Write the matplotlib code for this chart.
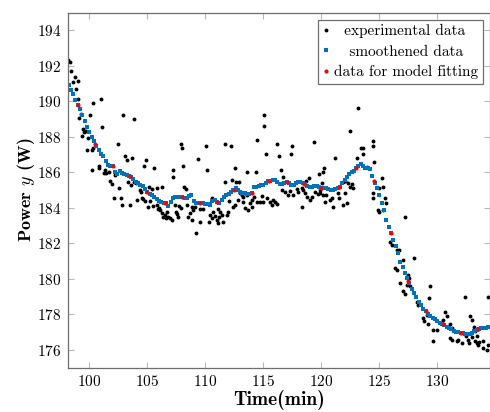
import matplotlib.pyplot as plt
import numpy as np

plt.rcParams['font.family'] = 'cmr10'
plt.rcParams['mathtext.fontset'] = 'cm'
plt.rcParams['axes.formatter.use_mathtext'] = True

exp_time = [98.19, 98.34, 98.45, 98.62, 98.77, 98.85, 99.00, 99.05, 99.14, 99.28,
            99.37, 99.43, 99.57, 99.72, 99.78, 99.89, 100.09, 100.20, 100.23, 100.29,
            100.30, 100.81, 100.86, 100.98, 101.07, 101.29, 101.35, 101.44, 101.72, 101.81,
            101.95, 102.13, 102.24, 102.45, 102.59, 102.70, 102.84, 102.93, 103.05, 103.25,
            103.30, 103.51, 103.59, 103.66, 103.85, 103.88, 104.03, 104.14, 104.37, 104.46,
            104.52, 104.60, 104.74, 104.80, 104.89, 105.09, 105.12, 105.23, 105.38, 105.52,
            105.60, 105.81, 105.81, 105.95, 106.03, 106.10, 106.24, 106.24, 106.38, 106.53,
            106.61, 106.67, 106.81, 106.96, 107.10, 107.19, 107.24, 107.39, 107.47, 107.53,
            107.68, 107.76, 107.88, 107.88, 107.99, 108.08, 108.16, 108.34, 108.40, 108.53,
            108.68, 108.81, 108.83, 108.97, 109.11, 109.19, 109.39, 109.54, 109.54, 109.77,
            110.03, 110.12, 110.32, 110.40, 110.55, 110.55, 110.69, 110.84, 110.98, 111.12,
            111.12, 111.21, 111.27, 111.41, 111.55, 111.70, 111.70, 111.84, 111.98, 112.07,
            112.22, 112.33, 112.41, 112.53, 112.56, 112.62, 112.85, 112.90, 112.99, 113.14,
            113.22, 113.28, 113.42, 113.57, 113.57, 113.71, 113.86, 114.00, 114.00, 114.15,
            114.35, 114.43, 114.48, 114.72, 114.86, 115.00, 115.06, 115.09, 115.26, 115.29,
            115.58, 115.72, 115.86, 116.00, 116.15, 116.20, 116.36, 116.52, 116.58, 116.72,
            116.87, 117.16, 117.30, 117.37, 117.45, 117.59, 117.88, 118.02, 118.30, 118.30,
            118.45, 118.59, 118.71, 118.74, 118.91, 119.03, 119.17, 119.37, 119.46, 119.69,
            119.80, 119.89, 119.92, 120.03, 120.12, 120.17, 120.23, 120.31, 120.40, 120.75,
            120.89, 120.98, 121.18, 121.47, 121.50, 121.84, 121.90, 122.05, 122.05, 122.19,
            122.33, 122.48, 122.49, 122.62, 122.76, 123.05, 123.20, 123.45, 123.58, 123.62,
            123.91, 124.05, 124.43, 124.48, 124.54, 124.43, 124.48, 124.91, 125.00, 125.00,
            125.20, 125.29, 125.34, 125.49, 125.57, 125.92, 126.07, 126.35, 126.50, 126.50,
            126.72, 126.78, 127.25, 127.07, 127.07, 127.22, 127.36, 127.50, 127.59, 127.65,
            128.02, 128.22, 128.36, 128.74, 128.85, 129.09, 129.22, 129.31, 129.37, 129.60,
            129.66, 129.95, 130.52, 130.66, 130.81, 131.09, 131.09, 131.24, 131.24, 131.67,
            131.81, 132.10, 132.39, 132.47, 132.67, 132.76, 132.82, 132.97, 132.97, 133.16,
            133.25, 133.25, 133.40, 133.40, 133.53, 133.62, 133.97, 133.97, 134.26, 134.40,
            134.40]
exp_power = [192.31, 192.22, 191.69, 191.10, 191.38, 190.68, 190.16, 191.13, 189.07, 189.31,
             188.06, 188.42, 188.29, 188.32, 187.25, 187.95, 189.22, 187.25, 186.12, 189.90,
             187.40, 186.37, 186.22, 190.12, 188.54, 185.94, 186.12, 185.94, 186.03, 185.53,
             185.34, 184.53, 185.84, 187.59, 185.10, 184.53, 184.16, 189.22, 186.94, 186.69,
             185.43, 184.16, 185.28, 186.82, 189.00, 185.47, 185.38, 184.44, 185.00, 184.91,
             184.53, 184.49, 186.37, 184.38, 186.71, 184.07, 185.19, 184.40, 185.04, 184.12,
             186.22, 184.16, 185.14, 183.95, 183.97, 183.88, 185.19, 183.69, 183.50, 183.60,
             183.41, 183.79, 183.50, 183.41, 183.31, 186.12, 185.75, 184.16, 183.79, 183.63,
             183.50, 184.12, 187.59, 183.97, 187.39, 186.35, 185.17, 185.06, 184.16, 183.50,
             183.69, 183.31, 184.07, 183.88, 184.07, 182.57, 186.78, 183.93, 183.22, 183.93,
             187.50, 186.11, 183.22, 183.60, 184.53, 183.41, 183.75, 183.56, 183.31, 183.93,
             183.13, 183.50, 183.79, 183.60, 183.22, 187.59, 185.43, 183.60, 183.79, 184.40,
             187.50, 185.56, 184.07, 186.22, 184.16, 185.43, 184.44, 185.43, 184.82, 184.72,
             184.63, 184.35, 183.97, 186.00, 184.72, 183.88, 184.25, 184.44, 184.07, 184.63,
             186.00, 184.31, 187.85, 184.31, 184.69, 184.35, 189.22, 188.62, 187.03, 184.53,
             184.31, 184.16, 184.44, 184.35, 184.20, 187.59, 186.94, 186.12, 185.00, 185.75,
             184.87, 184.72, 184.94, 187.03, 187.48, 184.72, 185.06, 184.91, 185.10, 184.07,
             185.00, 184.82, 185.51, 184.63, 185.66, 184.44, 184.63, 187.72, 184.91, 184.76,
             185.88, 185.00, 184.82, 185.38, 186.03, 184.72, 186.26, 184.35, 184.72, 184.44,
             184.53, 184.07, 186.82, 184.82, 184.53, 185.43, 184.16, 185.51, 184.82, 184.25,
             185.38, 185.19, 188.32, 185.32, 185.10, 186.82, 189.65, 187.39, 187.35, 187.01,
             186.32, 186.22, 187.74, 187.50, 186.60, 184.82, 184.57, 183.88, 185.10, 183.79,
             185.66, 185.19, 183.88, 184.53, 184.25, 182.10, 181.91, 180.60, 181.63, 180.50,
             181.63, 179.75, 183.50, 181.06, 179.29, 179.13, 179.66, 180.19, 180.03, 179.57,
             181.20, 178.72, 178.53, 177.78, 177.60, 177.97, 177.45, 178.91, 179.62, 176.51,
             177.13, 177.13, 177.69, 178.13, 177.88, 177.45, 176.66, 177.22, 176.57, 176.47,
             176.57, 176.38, 178.95, 176.76, 176.57, 176.38, 177.88, 177.69, 176.70, 177.26,
             177.04, 176.47, 176.76, 176.38, 176.28, 176.43, 176.10, 176.51, 176.00, 176.28,
             178.95]

# smoothened data, one value every 0.2 min starting at 98.2 min
smooth_start = 98.2
smooth_step = 0.2
smooth_power = [190.95, 190.65, 190.40, 190.10, 189.82, 189.55, 189.25, 188.90, 188.55, 188.25,
                188.00, 187.75, 187.50, 187.25, 187.05, 186.90, 186.65, 186.40, 186.38, 186.35,
                186.00, 185.90, 186.05, 185.95, 185.90, 185.85, 185.80, 185.75, 185.60, 185.45,
                185.40, 185.30, 185.25, 185.05, 184.90, 184.80, 184.70, 184.60, 184.50, 184.40,
                184.35, 184.30, 184.25, 184.10, 184.35, 184.55, 184.60, 184.60, 184.62, 184.60,
                184.58, 184.55, 184.65, 184.75, 184.40, 184.30, 184.28, 184.25, 184.25, 184.22,
                184.20, 184.15, 184.40, 184.42, 184.33, 184.30, 184.45, 184.60, 184.70, 184.80,
                184.90, 185.00, 185.10, 185.00, 184.90, 184.85, 184.82, 184.80, 184.80, 184.83,
                185.15, 185.20, 185.25, 185.28, 185.30, 185.40, 185.50, 185.52, 185.55, 185.56,
                185.45, 185.32, 185.35, 185.40, 185.43, 185.38, 185.30, 185.28, 185.38, 185.47,
                185.45, 185.38, 185.35, 185.25, 185.19, 185.20, 185.25, 185.25, 185.18, 185.11,
                185.10, 185.10, 185.05, 185.02, 185.00, 185.05, 185.12, 185.20, 185.40, 185.55,
                185.75, 185.90, 186.00, 186.10, 186.22, 186.35, 186.45, 186.35, 186.26, 186.22,
                186.20, 185.80, 185.40, 185.10, 184.70, 184.30, 183.85, 183.30, 182.90, 182.58,
                182.20, 181.85, 181.45, 180.97, 180.65, 180.35, 180.05, 179.75, 179.45, 179.20,
                178.95, 178.70, 178.50, 178.32, 178.16, 178.00, 177.90, 177.80, 177.72, 177.62,
                177.52, 177.45, 177.38, 177.30, 177.22, 177.15, 177.08, 177.02, 176.98, 176.94,
                176.92, 176.90, 176.90, 176.90, 176.95, 177.05, 177.12, 177.18, 177.20, 177.22,
                177.25, 177.28]

# points picked for model fitting, every 1.5 min from 99 min
fit_time = [99.0, 100.5, 102.0, 103.5, 105.0, 106.5, 108.0, 109.5, 111.0, 112.5, 114.0, 115.5,
            117.0, 118.5, 120.0, 121.5, 123.0, 124.5, 126.0, 127.5, 129.0, 130.5, 132.0, 133.5]
fit_power = [189.82, 187.61, 186.35, 185.79, 184.91, 184.27, 184.61, 184.25, 184.33, 185.02,
             184.83, 185.51, 185.43, 185.36, 185.11, 185.17, 186.22, 185.51, 182.58, 179.88,
             178.16, 177.43, 176.94, 177.17]

smooth_time = smooth_start + smooth_step * np.arange(len(smooth_power))

fig = plt.figure(figsize=(4.9, 4.12), dpi=100)
ax = fig.add_axes([0.1394, 0.108, 0.8596, 0.8612])

ax.plot(exp_time, exp_power, 'o', color='black', markersize=2.8, markeredgewidth=0,
        label='  experimental data')
ax.plot(smooth_time, smooth_power, 's', color='#0072BD', markersize=2.4, markeredgewidth=0,
        label='   smoothened data')
ax.plot(fit_time, fit_power, 'o', color='red', markersize=3.0, markeredgewidth=0,
        label='data for model fitting')

ax.set_xlim(98.18, 134.5)
ax.set_ylim(175, 195)
ax.set_xticks([100, 105, 110, 115, 120, 125, 130])
ax.set_yticks(np.arange(176, 195, 2))

ax.tick_params(direction='in', length=4, width=0.8, color='#b8b8b8', labelsize=11,
               top=True, right=True, pad=5)
for s in ax.spines.values():
    s.set_color('#6e6e6e')
    s.set_linewidth(0.9)

ax.set_xlabel('Time(min)', fontfamily='cmb10', fontsize=14, labelpad=0.5)
ax.set_ylabel('Power $y$ (W)', fontfamily='cmb10', fontsize=13, labelpad=0)

leg = ax.legend(loc='upper right', fontsize=11, numpoints=1, markerscale=1.0,
                handlelength=0.5, handletextpad=0.25, borderpad=0.3, labelspacing=0.42,
                fancybox=False, framealpha=1, borderaxespad=0.45)
leg.get_frame().set_edgecolor('#6e6e6e')
leg.get_frame().set_linewidth(0.9)

fig.savefig('out.png', dpi=100)
